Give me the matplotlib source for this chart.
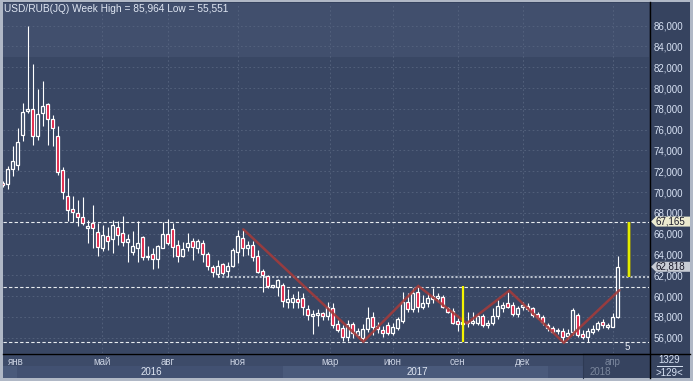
import matplotlib
matplotlib.use("Agg")
import matplotlib.pyplot as plt
import matplotlib.transforms as mtransforms
from matplotlib.patches import Rectangle, Polygon
from matplotlib.lines import Line2D
import numpy as np

W, H = 693, 381

# weekly USD/RUB candles
opens = [70.9, 70.75, 72.19, 72.58, 75.49, 77.8, 78.0, 75.4, 77.58, 78.44,
         77.0, 75.4, 72.1, 69.6, 68.37, 68.0, 67.57, 66.5, 67.06, 66.2,
         64.66, 65.78, 65.46, 66.6, 66.1, 65.23, 64.27, 64.66, 65.66, 63.73,
         64.05, 63.54, 64.6, 65.97, 66.42, 64.9, 63.86, 64.75, 65.33, 64.6,
         65.13, 64.05, 62.77, 62.13, 63.05, 62.45, 62.9, 64.27, 65.56, 64.6,
         64.9, 63.86, 62.45, 61.93, 60.9, 60.9, 61.07, 59.46, 59.46, 59.75,
         59.8, 58.8, 58.08, 58.18, 58.35, 58.1, 58.83, 57.32, 56.9, 56.1,
         57.32, 56.26, 55.94, 56.8, 57.96, 57.1, 56.74, 57.22, 56.48, 56.9,
         57.64, 59.46, 58.73, 60.42, 58.92, 59.33, 59.7, 59.8, 59.9, 58.83,
         58.6, 57.64, 57.32, 57.38, 57.38, 57.38, 58.1, 57.22, 57.38, 58.1,
         58.83, 59.3, 59.15, 58.28, 58.92, 59.05, 58.83, 58.28, 58.02, 57.22,
         56.9, 56.6, 56.67, 56.16, 56.58, 58.18, 56.36, 56.1, 56.58, 56.8,
         57.54, 57.06, 57.06, 58.02]
highs = [71.1, 72.5, 74.4, 76.16, 78.6, 85.964, 82.3, 79.9, 80.7, 78.6,
         77.4, 76.36, 72.4, 71.4, 69.6, 69.2, 69.5, 67.3, 68.8, 67.0,
         66.84, 66.67, 67.3, 67.25, 67.7, 66.0, 66.26, 67.2, 65.8, 64.8,
         64.6, 64.9, 67.15, 67.4, 67.0, 65.4, 65.2, 66.1, 65.56, 65.46,
         65.4, 64.27, 63.0, 63.47, 63.2, 63.3, 64.6, 66.36, 66.4, 65.3,
         65.33, 64.43, 62.58, 62.0, 61.07, 61.6, 61.3, 60.65, 60.2, 60.5,
         60.33, 59.15, 58.66, 58.73, 58.5, 59.46, 59.36, 57.7, 57.22, 57.7,
         57.54, 56.9, 57.32, 58.92, 58.5, 57.54, 57.1, 57.54, 57.38, 58.02,
         60.42, 60.27, 60.75, 60.9, 60.1, 60.33, 60.75, 60.27, 60.1, 58.98,
         58.83, 57.86, 58.0, 58.5, 58.5, 58.35, 58.28, 57.7, 58.83, 59.6,
         59.46, 60.42, 59.46, 59.05, 59.46, 59.36, 58.98, 58.5, 58.18, 57.38,
         57.1, 56.9, 56.9, 56.8, 58.83, 58.35, 56.74, 56.9, 57.22, 57.64,
         57.8, 57.38, 58.35, 63.86]
lows = [70.5, 70.3, 71.5, 72.1, 74.9, 77.6, 74.5, 75.0, 76.35, 74.5,
        74.46, 71.6, 69.3, 67.25, 67.1, 66.7, 66.8, 65.1, 64.6, 63.86,
        64.3, 64.4, 64.17, 64.9, 64.8, 63.3, 64.0, 63.3, 63.5, 63.47,
        62.58, 62.67, 64.6, 64.9, 63.73, 63.3, 63.8, 64.3, 63.5, 64.1,
        63.3, 62.5, 61.87, 61.87, 62.0, 61.87, 62.83, 63.15, 63.86, 63.95,
        63.4, 62.2, 60.42, 60.75, 60.75, 60.0, 58.98, 58.9, 58.9, 58.9,
        58.18, 57.7, 56.4, 57.1, 57.7, 57.7, 56.9, 56.58, 55.7, 55.7,
        55.94, 56.04, 55.6, 56.58, 56.26, 56.42, 56.1, 56.26, 56.26, 56.74,
        57.38, 58.5, 58.5, 58.5, 58.73, 58.92, 59.3, 59.46, 58.83, 58.4,
        57.32, 56.67, 56.67, 57.06, 57.22, 57.22, 57.06, 56.9, 57.22, 57.8,
        58.5, 58.83, 58.1, 58.02, 58.66, 58.6, 58.02, 57.8, 57.22, 56.67,
        56.42, 56.35, 55.62, 55.85, 56.26, 56.04, 55.85, 55.551, 56.35, 56.67,
        56.9, 56.8, 57.0, 57.86]
closes = [70.68, 72.19, 73.0, 74.79, 77.73, 78.0, 75.4, 77.5, 78.31, 77.0,
          76.2, 71.9, 70.0, 68.3, 68.1, 67.6, 67.06, 66.7, 66.5, 64.75,
          65.87, 65.33, 66.84, 65.87, 65.23, 65.46, 64.8, 65.08, 63.73, 63.86,
          63.57, 64.8, 65.97, 65.13, 64.7, 63.86, 64.5, 65.08, 64.75, 65.3,
          64.05, 62.9, 62.3, 62.9, 62.25, 62.9, 64.43, 65.78, 64.6, 64.9,
          63.73, 62.35, 62.03, 60.97, 61.0, 61.55, 59.56, 59.7, 59.8, 59.46,
          58.92, 58.18, 58.28, 58.4, 58.1, 58.92, 57.22, 56.74, 56.1, 57.32,
          56.42, 56.67, 56.8, 57.86, 57.0, 56.8, 56.42, 56.48, 57.0, 57.77,
          59.46, 58.73, 60.27, 58.92, 59.3, 59.8, 60.03, 60.03, 58.98, 58.5,
          57.38, 57.32, 57.54, 57.54, 57.64, 58.1, 57.22, 57.45, 58.1, 59.05,
          59.15, 58.92, 58.28, 58.83, 59.15, 58.73, 58.18, 57.96, 57.54, 56.9,
          56.58, 56.7, 56.1, 56.48, 58.66, 56.26, 56.04, 56.67, 56.8, 57.45,
          57.22, 57.22, 58.02, 62.818]

month_pos = [2.6, 19.8, 33.0, 47.0, 65.4, 78.0, 91.0, 104.0, 122.0]
month_labels = ['янв', 'май', 'авг', 'ноя', 'мар', 'июн', 'сен', 'дек', 'апр']
year_px = [151, 417, 600]
year_labels = ['2016', '2017', '2018']

zigzag_x = [48.1, 72.1, 83.1, 92.8, 101.3, 112.2, 123.3]
zigzag_y = [66.42, 55.62, 60.97, 57.38, 60.52, 55.52, 60.56]

level_high = 67.165
level_low = 55.551
level_mid = 60.9
level_dots = 61.8
last_price = 62.818

BG = '#394764'
RED = '#e0163c'
TXT = '#d8e2f4'

plt.rcParams['font.family'] = ['Liberation Sans', 'DejaVu Sans']


def fx(x):
    return x / W


def fy(y):
    return 1 - y / H


def fig_rect(x0, y0, x1, y1, color, z=-5):
    fig.patches.append(Rectangle((fx(x0), fy(y1)), (x1 - x0) / W, (y1 - y0) / H,
                                 transform=fig.transFigure, facecolor=color,
                                 edgecolor='none', zorder=z))


fig = plt.figure(figsize=(W / 100, H / 100), dpi=100, facecolor='#b0b8c6')

# panels around the chart
fig_rect(2.5, 2, 689.5, 378, '#36435f')
fig_rect(2.5, 353, 649, 366, '#3d4b69')
fig_rect(2.5, 366, 17, 378, '#4a5a7b')
fig_rect(17, 366, 283, 378, '#425172')
fig_rect(283, 366, 548, 378, '#4a5a7b')
fig_rect(548, 366, 583, 378, '#425172')
fig_rect(583, 353, 649, 378, '#36435f')
fig.lines.append(Line2D([fx(583), fx(583)], [fy(354), fy(378)], transform=fig.transFigure,
                        color='#2e3a54', lw=0.8))
fig.lines.append(Line2D([fx(649.5), fx(649.5)], [fy(2), fy(378)], transform=fig.transFigure,
                        color='black', lw=1))
fig.lines.append(Line2D([fx(2.5), fx(689.5)], [fy(353.5), fy(353.5)], transform=fig.transFigure,
                        color='black', lw=1))

ax = fig.add_axes([3 / W, 1 - 353 / H, 646 / W, 350 / H])
ax.set_facecolor(BG)
ax.set_xlim(0.04, 129.24)
ax.set_ylim(54.53, 88.18)
for s in ax.spines.values():
    s.set_visible(False)
ax.axhspan(82.99, 90, color='#414f6d', zorder=0, lw=0)

# grid
for v in range(56, 88, 2):
    ax.axhline(v, color='#56647f', lw=0.6, ls=(0, (2, 3)), zorder=1)
for p in month_pos[1:]:
    ax.axvline(p, color='#56647f', lw=0.6, ls=(0, (2, 3)), zorder=1)

# candles
idx = np.arange(len(opens))
o = np.array(opens)
c = np.array(closes)
up = c >= o
ax.vlines(idx, lows, highs, color='white', lw=0.8, zorder=3)
heights = np.maximum(np.abs(c - o), 0.12)
ax.bar(idx, heights, bottom=np.minimum(o, c), width=0.62,
       color=np.where(up, BG, RED), edgecolor='white', linewidth=0.9, zorder=4)

# levels
ax.axhline(level_high, color='#e8ecf0', lw=0.8, ls=(0, (3, 2)), zorder=2)
ax.axhline(level_mid, color='#e8ecf0', lw=0.8, ls=(0, (3, 2)), zorder=2)
ax.axhline(level_low, color='#e8ecf0', lw=0.8, ls=(0, (3, 2)), zorder=2)
ax.hlines(level_dots, 43, 129.24, color='#b8c0cc', lw=1.5, ls=(0, (1, 1)), zorder=2)

# zigzag and markers
ax.plot(zigzag_x, zigzag_y, color='#a23b3b', lw=1.8, alpha=0.9, zorder=5,
        solid_capstyle='round', solid_joinstyle='miter')
ax.vlines(92.1, zigzag_y[2], zigzag_y[1], color='#f4f400', lw=1.6, zorder=6)
ax.vlines(125.34, level_dots, level_high, color='#8c8c1c', lw=2.6, zorder=6)
ax.vlines(125.34, level_dots, level_high, color='#e4f000', lw=1.4, zorder=7)

# axes ticks
ax.yaxis.tick_right()
ax.set_yticks(range(56, 88, 2))
ax.set_yticklabels([f"{v:.3f}".replace('.', ',') for v in range(56, 88, 2)])
ax.tick_params(axis='y', length=0, pad=3, labelsize=7, labelcolor=TXT)
ax.set_xticks(month_pos)
ax.set_xticklabels(month_labels)
ax.tick_params(axis='x', length=0, pad=3, labelsize=7, labelcolor='#c8d0e0')
ax.get_xticklabels()[-1].set_color('#7a869c')

# price tags on the right scale
blend = mtransforms.blended_transform_factory(fig.transFigure, ax.transData)
for val, face in [(level_high, '#ecebd0'), (last_price, '#c8ccd4')]:
    hh = 0.48
    poly = Polygon([(fx(651), val), (fx(656), val + hh), (fx(690), val + hh),
                    (fx(690), val - hh), (fx(656), val - hh)], closed=True,
                   transform=blend, facecolor=face, edgecolor='none',
                   clip_on=False, zorder=8)
    ax.add_patch(poly)
    ax.text(fx(656), val, f"{val:.3f}".replace('.', ','), transform=blend,
            ha='left', va='center', fontsize=7, color='#1a1a2a', zorder=9, clip_on=False)

# texts
fig.text(fx(4), fy(8.5), 'USD/RUB(JQ) Week High = 85,964 Low = 55,551',
         ha='left', va='center', fontsize=7.3, color='#dfe6f2')
for xp, lab in zip(year_px, year_labels):
    fig.text(fx(xp), fy(372), lab, ha='center', va='center', fontsize=7,
             color='#7a869c' if lab == '2018' else '#dfe6f2')
fig.text(fx(627.5), fy(347.5), '5', ha='center', va='center', fontsize=7, color='#e8ecf4')
fig.text(fx(669), fy(360), '1329', ha='center', va='center', fontsize=7, color=TXT)
fig.lines.append(Line2D([fx(657), fx(682)], [fy(366), fy(366)], transform=fig.transFigure,
                        color=TXT, lw=0.7))
fig.text(fx(669), fy(372.5), '>129<', ha='center', va='center', fontsize=7, color=TXT)

fig.savefig('out.png', dpi=100, facecolor=fig.get_facecolor())
